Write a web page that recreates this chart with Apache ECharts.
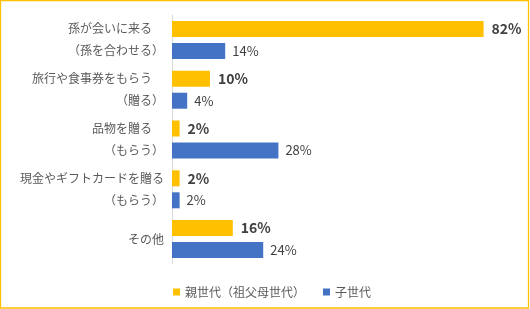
<!DOCTYPE html>
<html>
<head>
<meta charset="utf-8">
<script src="https://cdn.jsdelivr.net/npm/echarts@6/dist/echarts.min.js"></script>
<style>
  html, body { margin: 0; padding: 0; background: #fff; }
  #chart { width: 530px; height: 309px; }
</style>
</head>
<body>
<div id="chart"></div>
<script>
// categories (first line = 親世代 wording, second line = 子世代 wording)
var categories = [
  "孫が会いに来る\u3000\n（孫を合わせる）",
  "旅行や食事券をもらう\u3000\n（贈る）",
  "品物を贈る\u3000\n（もらう）",
  "現金やギフトカードを贈る\n（もらう）",
  "その他"
];
var seriesNames = ["親世代（祖父母世代）", "子世代"];
var parentValues = [82, 10, 2, 2, 16];
var childValues = [14, 4, 28, 2, 24];

var FONT = "'Noto Sans CJK JP', 'Noto Sans', sans-serif";

var myChart = echarts.init(document.getElementById("chart"));

var option = {
  backgroundColor: "#fff",
  animation: false,
  textStyle: { fontFamily: FONT },
  graphic: [
    {
      type: "rect",
      shape: { x: 0.5, y: 0.5, width: 528, height: 307.5 },
      style: { fill: "none", stroke: "#FFC000", lineWidth: 1.3 },
      silent: true
    }
  ],
  legend: {
    data: seriesNames,
    left: 168,
    top: 281,
    icon: "rect",
    itemWidth: 7,
    itemHeight: 7,
    itemGap: 18,
    textStyle: { fontSize: 12, color: "#595959", fontFamily: FONT }
  },
  grid: {
    left: 172,
    right: 16,
    top: 15,
    bottom: 45,
    containLabel: false
  },
  xAxis: {
    type: "value",
    min: 0,
    max: 90,
    show: false
  },
  yAxis: {
    type: "category",
    inverse: true,
    data: categories,
    axisLine: { show: true, lineStyle: { color: "#D9D9D9", width: 1 } },
    axisTick: { show: false },
    axisLabel: {
      margin: 8,
      fontSize: 12,
      lineHeight: 22,
      color: "#595959",
      fontFamily: FONT,
      align: "right"
    }
  },
  series: [
    {
      name: seriesNames[0],
      type: "bar",
      data: parentValues,
      barWidth: 16,
      barGap: "37.5%",
      itemStyle: { color: "#FFC000" },
      label: {
        show: true,
        position: "right",
        distance: 8,
        formatter: "{c}%",
        fontSize: 14,
        fontWeight: "bold",
        color: "#404040",
        fontFamily: FONT
      }
    },
    {
      name: seriesNames[1],
      type: "bar",
      data: childValues,
      barWidth: 16,
      barGap: "37.5%",
      itemStyle: { color: "#4472C4" },
      label: {
        show: true,
        position: "right",
        distance: 7,
        formatter: "{c}%",
        fontSize: 13,
        color: "#404040",
        fontFamily: FONT
      }
    }
  ]
};

myChart.setOption(option);
window.addEventListener("resize", function () { myChart.resize(); });
</script>
</body>
</html>
